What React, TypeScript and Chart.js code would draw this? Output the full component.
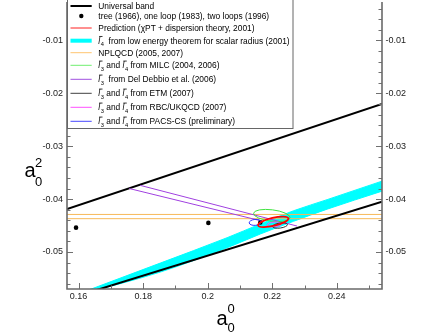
import React, { useEffect, useRef } from "react";
import { Chart, registerables } from "chart.js";

Chart.register(...registerables);

// ---- axis ranges & ticks ----
const xRange = [0.1564, 0.254];
const yRange = [-0.057, -0.0031];
const xMajorTicks = [0.16, 0.18, 0.2, 0.22, 0.24];
const xTickLabels = ["0.16", "0.18", "0.2", "0.22", "0.24"];
const xMinorTicks = [0.17, 0.19, 0.21, 0.23, 0.25];
const yMajorTicks = [-0.01, -0.02, -0.03, -0.04, -0.05];
const yTickLabels = ["-0.01", "-0.02", "-0.03", "-0.04", "-0.05"];
const yMinorTicks = [
  -0.004, -0.006, -0.008, -0.012, -0.014, -0.016, -0.018, -0.022, -0.024, -0.026, -0.028,
  -0.032, -0.034, -0.036, -0.038, -0.042, -0.044, -0.046, -0.048, -0.052, -0.054, -0.056,
];

// ---- series ----
const universalUpperX = [0.1564, 0.254];
const universalUpperY = [-0.0419, -0.022];
const universalLowerX = [0.156, 0.254];
const universalLowerY = [-0.059, -0.0405];

const scalarRadiusX = [0.16, 0.1853, 0.206, 0.2163, 0.2266, 0.237, 0.254];
const scalarRadiusUpperY = [-0.0579, -0.0521, -0.0473, -0.0447, -0.0422, -0.0401, -0.0366];
const scalarRadiusLowerY = [-0.0581, -0.0538, -0.0492, -0.0466, -0.0442, -0.0419, -0.0385];

const npqcdX = [0.1564, 0.254];
const npqcdUpperY = [-0.0429, -0.0429];
const npqcdLowerY = [-0.0437, -0.0437];

const delDebbioUpperX = [0.1791, 0.2277];
const delDebbioUpperY = [-0.0374, -0.0451];
const delDebbioLowerX = [0.1757, 0.2158];
const delDebbioLowerY = [-0.038, -0.044];

const loopX = [0.1592, 0.2002, 0.2163];
const loopY = [-0.0454, -0.0445, -0.0444];

// ellipses: MILC, PACS-CS, RBC/UKQCD, ETM, Prediction
const ellipseCX = [0.21985, 0.2147, 0.2206, 0.2224, 0.2203];
const ellipseCY = [-0.0431, -0.0444, -0.0448, -0.045, -0.0443];
const ellipseRX = [0.00568, 0.00186, 0.00217, 0.00233, 0.00481];
const ellipseRY = [0.00108, 0.00056, 0.00047, 0.00047, 0.00075];
const ellipseTilt = [7, -5, -5, -8, -13];
const ellipseColor = ["#3ee23e", "#3030ff", "#ff40ff", "#333333", "#ff0000"];
const ellipseWidth = [1, 1, 1, 1, 1.8];

// ---- legend ----
type Seg = string | { l: string };
const legendLabels: Seg[][] = [
  ["Universal band"],
  ["tree (1966), one loop (1983), two loops (1996)"],
  ["Prediction (\u03c7PT + dispersion theory, 2001)"],
  [{ l: "4" }, "  from low energy theorem for scalar radius (2001)"],
  ["NPLQCD (2005, 2007)"],
  [{ l: "3" }, " and ", { l: "4" }, " from MILC (2004, 2006)"],
  [{ l: "3" }, "  from Del Debbio et al. (2006)"],
  [{ l: "3" }, " and ", { l: "4" }, " from ETM (2007)"],
  [{ l: "3" }, " and ", { l: "4" }, " from RBC/UKQCD (2007)"],
  [{ l: "3" }, " and ", { l: "4" }, " from PACS-CS (preliminary)"],
];
const legendKinds = ["line", "dot", "line", "line", "line", "line", "line", "line", "line", "line"];
const legendColors = ["#000000", "#000000", "#ff2020", "#00ffff", "#ffc670", "#70ee70", "#a050e0", "#404040", "#ff50ff", "#4848ff"];
const legendWidths = [2, 0, 1, 4, 1, 1, 1, 1, 1, 1];
const legendRowY = [6, 16, 28, 40.7, 52.7, 65.3, 79.3, 93.3, 107.3, 121.3];

const FONT = '"Liberation Sans", Arial, Helvetica, sans-serif';

const pts = (xs: number[], ys: number[]) => xs.map((x, i) => ({ x, y: ys[i] }));

function drawRich(ctx: CanvasRenderingContext2D, segs: Seg[], x: number, baseline: number, size: number) {
  let cx = x;
  for (const s of segs) {
    if (typeof s === "string") {
      ctx.font = `${size}px ${FONT}`;
      ctx.fillText(s, cx, baseline);
      cx += ctx.measureText(s).width;
    } else {
      ctx.font = `italic ${size}px ${FONT}`;
      ctx.fillText("l", cx, baseline);
      const w = ctx.measureText("l").width;
      ctx.beginPath();
      ctx.lineWidth = 0.8;
      ctx.strokeStyle = "#000";
      ctx.moveTo(cx + 0.8, baseline - size * 0.86);
      ctx.lineTo(cx + 4.2, baseline - size * 0.86);
      ctx.stroke();
      const sub = size * 0.68;
      ctx.font = `${sub}px ${FONT}`;
      ctx.fillText(s.l, cx + w + 0.6, baseline + size * 0.3);
      cx += w + 0.6 + ctx.measureText(s.l).width;
    }
  }
}

const overlayPlugin = {
  id: "overlay",
  afterDatasetsDraw(chart: any) {
    const { ctx, chartArea: a, scales } = chart;
    const xs = scales.x;
    const ys = scales.y;
    ctx.save();
    ctx.beginPath();
    ctx.rect(a.left, a.top, a.right - a.left, a.bottom - a.top);
    ctx.clip();
    for (let i = 0; i < ellipseCX.length; i++) {
      const px = xs.getPixelForValue(ellipseCX[i]);
      const py = ys.getPixelForValue(ellipseCY[i]);
      const rx = Math.abs(xs.getPixelForValue(ellipseCX[i] + ellipseRX[i]) - px);
      const ry = Math.abs(ys.getPixelForValue(ellipseCY[i] + ellipseRY[i]) - py);
      ctx.beginPath();
      ctx.ellipse(px, py, rx, ry, (ellipseTilt[i] * Math.PI) / 180, 0, Math.PI * 2);
      ctx.strokeStyle = ellipseColor[i];
      ctx.lineWidth = ellipseWidth[i];
      ctx.stroke();
    }
    ctx.restore();
  },
  afterDraw(chart: any) {
    const { ctx, chartArea: a, scales } = chart;
    const xs = scales.x;
    const ys = scales.y;
    ctx.save();
    // ticks
    ctx.strokeStyle = "#707070";
    ctx.lineWidth = 1;
    ctx.beginPath();
    for (const v of xMajorTicks) {
      const p = Math.round(xs.getPixelForValue(v)) + 0.5;
      ctx.moveTo(p, a.bottom);
      ctx.lineTo(p, a.bottom - 6);
    }
    for (const v of xMinorTicks) {
      const p = Math.round(xs.getPixelForValue(v)) + 0.5;
      if (p < a.left || p > a.right) continue;
      ctx.moveTo(p, a.bottom);
      ctx.lineTo(p, a.bottom - 3.5);
    }
    for (const v of yMajorTicks) {
      const p = Math.round(ys.getPixelForValue(v)) + 0.5;
      ctx.moveTo(a.left, p);
      ctx.lineTo(a.left + 6, p);
      ctx.moveTo(a.right, p);
      ctx.lineTo(a.right - 6, p);
    }
    for (const v of yMinorTicks) {
      const p = Math.round(ys.getPixelForValue(v)) + 0.5;
      ctx.moveTo(a.left, p);
      ctx.lineTo(a.left + 3.5, p);
      ctx.moveTo(a.right, p);
      ctx.lineTo(a.right - 3.5, p);
    }
    ctx.stroke();
    // axis lines
    ctx.strokeStyle = "#6a6a6a";
    ctx.lineWidth = 1.6;
    ctx.beginPath();
    ctx.moveTo(a.left, a.top - 2);
    ctx.lineTo(a.left, a.bottom);
    ctx.lineTo(a.right, a.bottom);
    ctx.lineTo(a.right, a.top - 2);
    ctx.stroke();
    // tick labels
    ctx.fillStyle = "#222";
    ctx.font = `9px ${FONT}`;
    ctx.textAlign = "center";
    ctx.textBaseline = "top";
    xMajorTicks.forEach((v, i) => ctx.fillText(xTickLabels[i], xs.getPixelForValue(v), a.bottom + 3));
    ctx.textBaseline = "middle";
    ctx.textAlign = "right";
    yMajorTicks.forEach((v, i) => ctx.fillText(yTickLabels[i], a.left - 4, ys.getPixelForValue(v)));
    ctx.textAlign = "left";
    yMajorTicks.forEach((v, i) => ctx.fillText(yTickLabels[i], a.right + 3.5, ys.getPixelForValue(v)));

    // axis titles
    ctx.fillStyle = "#000";
    ctx.textBaseline = "alphabetic";
    ctx.textAlign = "left";
    ctx.font = `20px ${FONT}`;
    ctx.fillText("a", 216.5, 325);
    ctx.fillText("a", 24.5, 177);
    ctx.font = `13px ${FONT}`;
    ctx.fillText("0", 227.5, 313);
    ctx.fillText("0", 227.5, 331.5);
    ctx.fillText("2", 35, 167);
    ctx.fillText("0", 35, 185.5);

    // legend box
    const lx = a.left;
    const lw = 292.5 - a.left;
    ctx.fillStyle = "#ffffff";
    ctx.fillRect(lx, -2, lw, 130.5);
    ctx.strokeStyle = "#666";
    ctx.lineWidth = 1;
    ctx.strokeRect(lx + 0.5, -2, lw, 130.5);
    legendLabels.forEach((segs, i) => {
      const yy = legendRowY[i];
      if (legendKinds[i] === "dot") {
        ctx.fillStyle = "#000";
        ctx.beginPath();
        ctx.arc(81.3, yy, 2.2, 0, Math.PI * 2);
        ctx.fill();
      } else {
        ctx.strokeStyle = legendColors[i];
        ctx.lineWidth = legendWidths[i];
        ctx.beginPath();
        ctx.moveTo(70.5, yy);
        ctx.lineTo(91.7, yy);
        ctx.stroke();
      }
      ctx.fillStyle = "#000";
      ctx.textAlign = "left";
      ctx.textBaseline = "alphabetic";
      drawRich(ctx, segs, 98.3, yy + 3, 8.4);
    });
    ctx.restore();
  },
};

export default function App() {
  const ref = useRef<HTMLCanvasElement | null>(null);
  useEffect(() => {
    document.body.style.margin = "0";
    if (!ref.current) return;
    const thin = { pointRadius: 0, fill: false, tension: 0 };
    const chart = new Chart(ref.current, {
      type: "line",
      data: {
        datasets: [
          {
            label: "scalar radius upper",
            data: pts(scalarRadiusX, scalarRadiusUpperY),
            borderColor: "#00ffff",
            backgroundColor: "#00ffff",
            borderWidth: 1,
            pointRadius: 0,
            fill: "+1",
            cubicInterpolationMode: "monotone",
            order: 10,
          },
          {
            label: "scalar radius lower",
            data: pts(scalarRadiusX, scalarRadiusLowerY),
            borderColor: "#00ffff",
            borderWidth: 1,
            pointRadius: 0,
            fill: false,
            cubicInterpolationMode: "monotone",
            order: 10,
          },
          { ...thin, label: "NPLQCD upper", data: pts(npqcdX, npqcdUpperY), borderColor: "#f7b95a", borderWidth: 1, order: 7 },
          { ...thin, label: "NPLQCD lower", data: pts(npqcdX, npqcdLowerY), borderColor: "#f7b95a", borderWidth: 1, order: 7 },
          { ...thin, label: "Universal upper", data: pts(universalUpperX, universalUpperY), borderColor: "#000", borderWidth: 2, order: 5 },
          { ...thin, label: "Universal lower", data: pts(universalLowerX, universalLowerY), borderColor: "#000", borderWidth: 2, order: 5 },
          { ...thin, label: "Del Debbio upper", data: pts(delDebbioUpperX, delDebbioUpperY), borderColor: "#a040e0", borderWidth: 1, order: 4 },
          { ...thin, label: "Del Debbio lower", data: pts(delDebbioLowerX, delDebbioLowerY), borderColor: "#a040e0", borderWidth: 1, order: 4 },
          {
            label: "tree, one loop, two loops",
            data: pts(loopX, loopY),
            showLine: false,
            pointRadius: 2.3,
            pointBackgroundColor: "#000",
            pointBorderColor: "#000",
            pointBorderWidth: 0,
            order: 1,
          },
        ],
      },
      options: {
        animation: false,
        responsive: false,
        devicePixelRatio: 1,
        layout: { padding: { left: 67, right: 48, top: 0, bottom: 43 } },
        scales: {
          x: { type: "linear", display: false, min: xRange[0], max: xRange[1] },
          y: { type: "linear", display: false, min: yRange[0], max: yRange[1] },
        },
        plugins: { legend: { display: false }, tooltip: { enabled: false } },
      },
      plugins: [overlayPlugin],
    } as any);
    return () => chart.destroy();
  }, []);
  return (
    <div style={{ width: 430, height: 332 }}>
      <canvas ref={ref} width={430} height={332} style={{ display: "block", width: 430, height: 332 }} />
    </div>
  );
}
